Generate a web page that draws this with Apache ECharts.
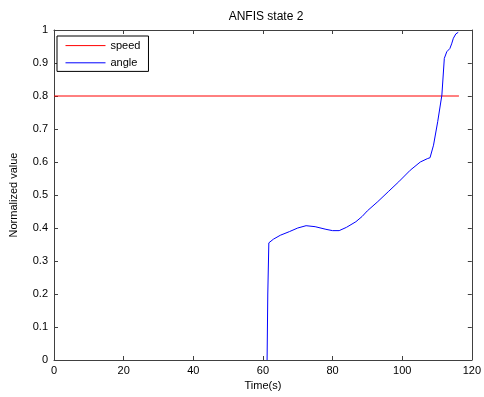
<!DOCTYPE html>
<html>
<head>
<meta charset="utf-8">
<script src="https://cdn.jsdelivr.net/npm/echarts@6/dist/echarts.min.js"></script>
<style>
  html, body { margin: 0; padding: 0; background: #fff; }
  #chart { width: 484px; height: 397px; }
</style>
</head>
<body>
<div id="chart"></div>
<script>
// speed: flat reference level
const speedTime = [0, 116.3];
const speedValue = [0.8, 0.8];

// angle: normalized response over time
const angleTime = [61.2, 61.4, 61.7, 63, 65, 67.6, 70, 72.4, 75, 78.1, 80, 81.9, 84, 86.7, 88.5, 90, 93, 96, 99, 102.3, 105.2, 107.2, 108.0, 109.0, 110.2, 111.4, 112.1, 112.8, 113.7, 114.2, 114.7, 115.4, 116.1];
const angleValue = [0, 0.2, 0.355, 0.366, 0.378, 0.389, 0.4, 0.407, 0.404, 0.396, 0.392, 0.392, 0.402, 0.419, 0.435, 0.452, 0.48, 0.51, 0.54, 0.575, 0.6, 0.61, 0.613, 0.651, 0.722, 0.803, 0.914, 0.934, 0.944, 0.958, 0.975, 0.988, 0.993];

const xTicks = { min: 0, max: 120, interval: 20 };
const yTicks = { min: 0, max: 1, interval: 0.1 };

const pair = (xs, ys) => xs.map((x, i) => [x, ys[i]]);

const font = "Liberation Sans, Arial, sans-serif";
const axisColor = "#404040";

const chart = echarts.init(document.getElementById("chart"));

const boxAxis = (extra) => ({
  type: "value",
  axisLine: { show: true, onZero: false, lineStyle: { color: axisColor, width: 1 } },
  axisTick: { show: true, inside: true, length: 4, lineStyle: { color: axisColor } },
  splitLine: { show: false },
  ...extra,
});

chart.setOption({
  animation: false,
  backgroundColor: "#fff",
  title: {
    text: "ANFIS state 2",
    left: 261,
    textAlign: "center",
    top: 6,
    textStyle: { fontFamily: font, fontSize: 12, fontWeight: "normal", color: "#000" },
  },
  legend: {
    orient: "vertical",
    left: 57,
    top: 36,
    padding: [4, 8, 3, 8],
    itemGap: 6,
    itemWidth: 40,
    itemHeight: 14,
    borderColor: "#000",
    borderWidth: 1,
    backgroundColor: "#fff",
    // hide the series symbol, keep only the line sample
    itemStyle: { opacity: 0, borderWidth: 0 },
    lineStyle: { width: 1 },
    textStyle: { fontFamily: font, fontSize: 11, color: "#000" },
    data: ["speed", "angle"],
  },
  grid: { left: 51, right: 12, top: 30, bottom: 37, containLabel: false },
  xAxis: [
    boxAxis({
      ...xTicks,
      position: "bottom",
      name: "Time(s)",
      nameLocation: "middle",
      nameGap: 20,
      nameTextStyle: { fontFamily: font, fontSize: 11, color: "#000" },
      axisLabel: { fontFamily: font, fontSize: 11, color: "#000", margin: 5 },
    }),
    boxAxis({ ...xTicks, position: "top", axisLabel: { show: false } }),
  ],
  yAxis: [
    boxAxis({
      ...yTicks,
      position: "left",
      name: "Normalized value",
      nameLocation: "middle",
      nameGap: 35,
      nameTextStyle: { fontFamily: font, fontSize: 11, color: "#000" },
      axisLabel: { fontFamily: font, fontSize: 11, color: "#000", margin: 6 },
    }),
    boxAxis({ ...yTicks, position: "right", axisLabel: { show: false } }),
  ],
  series: [
    {
      name: "speed",
      type: "line",
      symbol: "none",
      color: "#ff0000",
      lineStyle: { width: 1, color: "#ff0000" },
      data: pair(speedTime, speedValue),
    },
    {
      name: "angle",
      type: "line",
      symbol: "none",
      color: "#0000ff",
      lineStyle: { width: 1, color: "#0000ff" },
      data: pair(angleTime, angleValue),
    },
  ],
});
</script>
</body>
</html>
